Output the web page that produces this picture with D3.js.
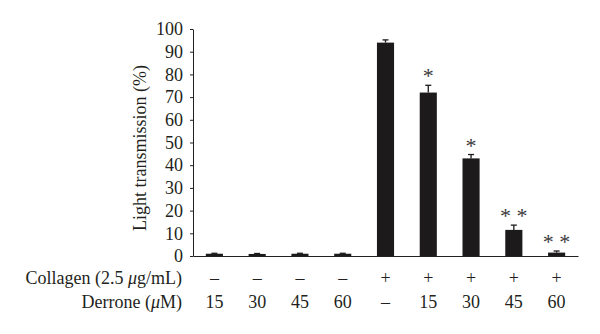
<!DOCTYPE html>
<html>
<head>
<meta charset="utf-8">
<script src="https://cdn.jsdelivr.net/npm/d3@7"></script>
<style>
  html, body { margin: 0; padding: 0; background: #fff; }
  svg text { font-family: "Liberation Serif", "DejaVu Serif", serif; fill: #231f20; }
</style>
</head>
<body>
<svg id="chart" width="600" height="334"></svg>
<script>
// Groups: collagen treatment and derrone concentration
const groups = ["g1", "g2", "g3", "g4", "g5", "g6", "g7", "g8", "g9"];
const collagenRow = ["\u2013", "\u2013", "\u2013", "\u2013", "+", "+", "+", "+", "+"];
const derroneRow = ["15", "30", "45", "60", "\u2013", "15", "30", "45", "60"];
// Light transmission (%) mean and SD
const means = [1, 0.9, 1, 1, 94, 72, 43, 11.5, 1.5];
const errors = [0.2, 0.2, 0.2, 0.2, 1.2, 3.2, 1.7, 2.1, 0.7];
const significance = ["", "", "", "", "", "*", "*", "* *", "* *"];
const yTicks = [0, 10, 20, 30, 40, 50, 60, 70, 80, 90, 100];

const FS = "18px";
const svg = d3.select("#chart");
const x = d3.scaleBand().domain(groups).range([193, 578]).paddingInner(0.6).paddingOuter(0.3);
const y = d3.scaleLinear().domain([0, 100]).range([256, 29]);

const data = groups.map((g, i) => ({ g, mean: means[i], err: errors[i], sig: significance[i] }));

// Bars
svg.append("g").selectAll("rect").data(data).join("rect")
  .attr("x", d => x(d.g))
  .attr("y", d => y(d.mean))
  .attr("width", x.bandwidth())
  .attr("height", d => y(0) - y(d.mean))
  .attr("fill", "#1c1a1b");

// Upper error whiskers with caps
const eb = svg.append("g").attr("stroke", "#1c1a1b").attr("stroke-width", 1.3);
data.forEach(d => {
  const cx = x(d.g) + x.bandwidth() / 2;
  eb.append("line").attr("x1", cx).attr("x2", cx).attr("y1", y(d.mean)).attr("y2", y(d.mean + d.err));
  eb.append("line").attr("x1", cx - 3).attr("x2", cx + 3).attr("y1", y(d.mean + d.err)).attr("y2", y(d.mean + d.err));
});

// Significance markers
svg.append("g").selectAll("text").data(data.filter(d => d.sig)).join("text")
  .attr("x", d => x(d.g) + x.bandwidth() / 2)
  .attr("y", d => y(d.mean + d.err) - 2)
  .attr("text-anchor", "middle")
  .style("font-size", "22px")
  .style("fill", "#3a3a3a")
  .text(d => d.sig);

// Y axis
const yAxis = svg.append("g").attr("transform", "translate(193,0)")
  .call(d3.axisLeft(y).tickValues(yTicks).tickSize(3).tickPadding(7).tickSizeOuter(0));
yAxis.selectAll("text").style("font-size", FS).style("font-family", "'Liberation Serif', serif").attr("fill", "#231f20");
yAxis.selectAll("line, path").attr("stroke", "#231f20");

// X axis baseline
const xAxis = svg.append("g").attr("transform", "translate(0,256)")
  .call(d3.axisBottom(x).tickSize(0).tickFormat(""));
xAxis.select("path").attr("stroke", "#231f20");

// Y axis title
svg.append("text")
  .attr("transform", "translate(146,148) rotate(-90)")
  .attr("text-anchor", "middle")
  .style("font-size", FS)
  .text("Light transmission (%)");

// Treatment rows
const rows = [
  { label: "Collagen (2.5 ", unit: "\u03bc", rest: "g/mL)", values: collagenRow, yPos: 284 },
  { label: "Derrone (", unit: "\u03bc", rest: "M)", values: derroneRow, yPos: 308 }
];
rows.forEach(r => {
  const t = svg.append("text").attr("x", 182).attr("y", r.yPos)
    .attr("text-anchor", "end").style("font-size", FS);
  t.append("tspan").text(r.label);
  t.append("tspan").style("font-style", "italic").text(r.unit);
  t.append("tspan").text(r.rest);
  svg.append("g").selectAll("text").data(groups).join("text")
    .attr("x", g => x(g) + x.bandwidth() / 2)
    .attr("y", r.yPos)
    .attr("text-anchor", "middle")
    .style("font-size", FS)
    .text((g, i) => r.values[i]);
});
</script>
</body>
</html>
